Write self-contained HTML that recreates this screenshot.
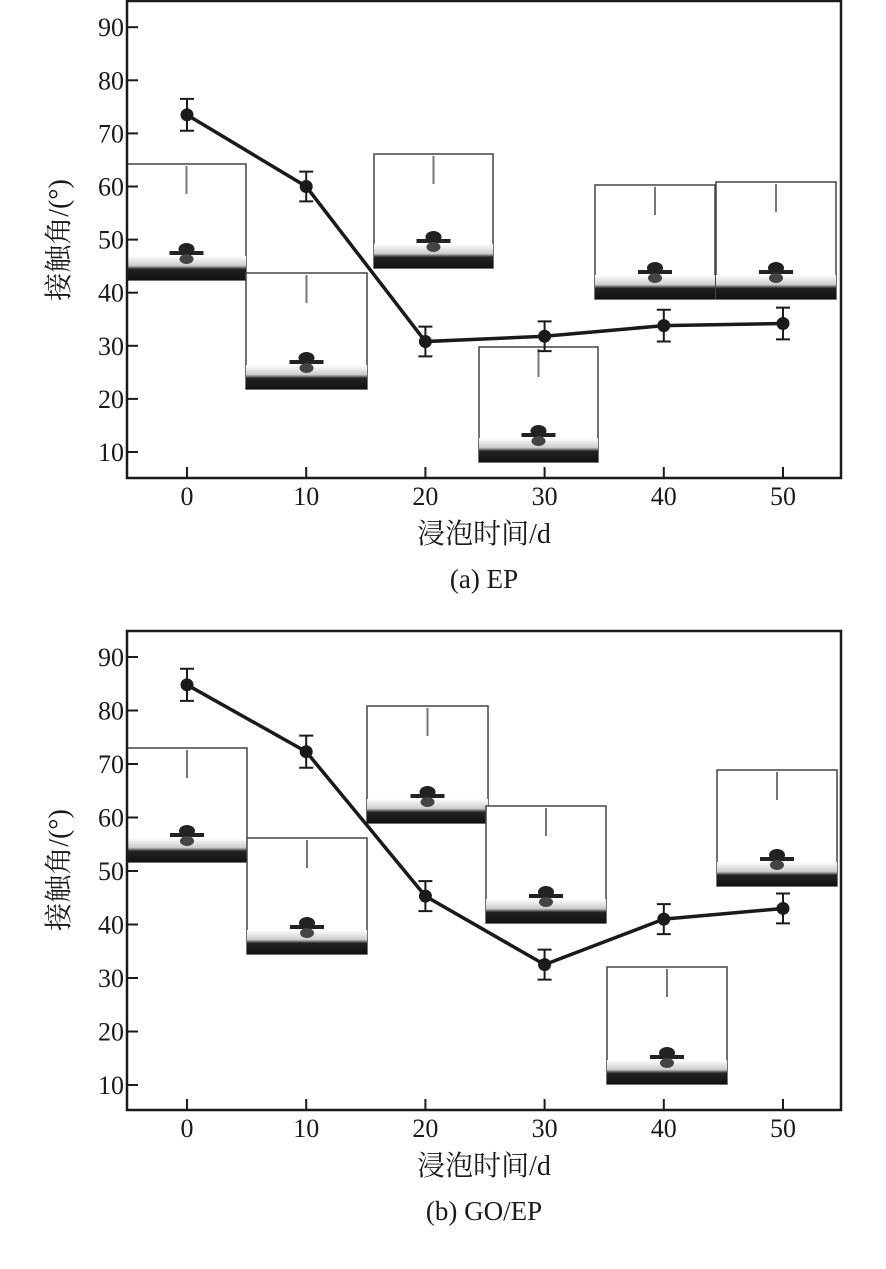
<!DOCTYPE html>
<html><head><meta charset="utf-8">
<style>
body{margin:0;background:#fff;}
svg text{font-family:"Liberation Serif","Noto Serif CJK SC",serif;fill:#1a1a1a;}
</style></head>
<body>
<svg id="s" width="886" height="1264" viewBox="0 0 886 1264" xmlns="http://www.w3.org/2000/svg">
<defs>
<linearGradient id="band" x1="0" y1="0" x2="0" y2="1">
<stop offset="0" stop-color="#fff"/><stop offset="0.4" stop-color="#ccc"/><stop offset="0.55" stop-color="#222"/><stop offset="1" stop-color="#111"/>
</linearGradient>
</defs>
</svg>
<script>
const days = [0, 10, 20, 30, 40, 50];
const epValues = [73.5, 60.0, 30.8, 31.8, 33.8, 34.2];
const epErrors = [3.0, 2.8, 2.8, 2.8, 3.0, 3.0];
const goValues = [84.8, 72.3, 45.3, 32.5, 41.0, 43.0];
const goErrors = [3.0, 3.0, 2.8, 2.8, 2.8, 2.8];
const yTicks = [10, 20, 30, 40, 50, 60, 70, 80, 90];
const xTicks = [0, 10, 20, 30, 40, 50];
const epInsets = [[127,164,119,116],[246,273,121,116],[374,154,119,114],[479,347,119,115],[595,185,120,114],[716,182,120,117]];
const goInsets = [[127,748,120,114],[247,838,120,116],[367,706,121,117],[486,806,120,117],[607,967,120,117],[717,770,120,116]];

const NS = "http://www.w3.org/2000/svg";
const svg = document.getElementById('s');
function mk(tag, attrs, parent){
  const e = document.createElementNS(NS, tag);
  for (const k in attrs) e.setAttribute(k, attrs[k]);
  (parent||svg).appendChild(e);
  return e;
}

function panel(p){
  const g = mk('g', {});
  
  
  const L=127, R=841, T=p.top, B=p.bottom;
  const xs = v => 187 + (v/10)*119.2;
  const ys = v => p.y10 - (v-10)/10*p.step;

  p.insets.forEach((r,i)=>{
    const ig = mk('g', {}, g);
    
    
    const [x,y,w,h]=r;
    mk('rect',{x:x,y:y,width:w,height:h,fill:'#fff',stroke:'#444','stroke-width':1.5},ig);
    mk('rect',{x:x,y:y+h-24,width:w,height:24,fill:'url(#band)'},ig);
    const cx = x + w/2;
    mk('line',{x1:cx,y1:y+2,x2:cx,y2:y+30,stroke:'#777','stroke-width':2},ig);
    mk('ellipse',{cx:cx,cy:y+h-31,rx:8,ry:6,fill:'#222'},ig);
    mk('rect',{x:cx-17,y:y+h-29,width:34,height:4,fill:'#222'},ig);
    mk('ellipse',{cx:cx,cy:y+h-21,rx:7,ry:5,fill:'#444'},ig);
  });

  const fr = mk('rect',{x:L,y:T,width:R-L,height:B-T,fill:'none',stroke:'#1a1a1a','stroke-width':2.5},g);
  
  

  yTicks.forEach(v=>{
    const y = ys(v);
    mk('line',{x1:L,y1:y,x2:L+11,y2:y,stroke:'#1a1a1a','stroke-width':2},g);
    const t = mk('text',{x:L-3,y:y+9,'font-size':26,'text-anchor':'end'},g);
    t.textContent = v;
    
    
  });
  xTicks.forEach(v=>{
    const x = xs(v);
    mk('line',{x1:x,y1:B,x2:x,y2:B-11,stroke:'#1a1a1a','stroke-width':2},g);
    const t = mk('text',{x:x,y:B+27,'font-size':26,'text-anchor':'middle'},g);
    t.textContent = v;
    
    
  });

  const pts = days.map((d,i)=>xs(d)+','+ys(p.values[i])).join(' ');
  const pl = mk('polyline',{points:pts,fill:'none',stroke:'#1a1a1a','stroke-width':3.5},g);
  
  
  days.forEach((d,i)=>{
    const x=xs(d), y=ys(p.values[i]), e=p.errors[i]*p.step/10;
    const eb = mk('path',{d:`M${x},${y-e}V${y+e}M${x-7},${y-e}H${x+7}M${x-7},${y+e}H${x+7}`,stroke:'#1a1a1a','stroke-width':2,fill:'none'},g);
    
    
    const c = mk('circle',{cx:x,cy:y,r:6.5,fill:'#1a1a1a'},g);
    
    
  });

  const yl = mk('text',{x:0,y:0,'font-size':28,'text-anchor':'middle',transform:`translate(68,${p.ylabelY}) rotate(-90)`},g);
  yl.textContent='接触角/(°)';
  
  
  const xl = mk('text',{x:484,y:B+65,'font-size':28,'text-anchor':'middle'},g);
  xl.textContent='浸泡时间/d';
  
  
  const cap = mk('text',{x:484,y:B+110,'font-size':27,'text-anchor':'middle'},g);
  cap.textContent=p.caption;
  
  
}

panel({name:'panel-a-ep',top:1,bottom:478,y10:452,step:53.1,values:epValues,errors:epErrors,insets:epInsets,caption:'(a) EP',ylabelY:240});
panel({name:'panel-b-go-ep',top:631,bottom:1110,y10:1085,step:53.5,values:goValues,errors:goErrors,insets:goInsets,caption:'(b) GO/EP',ylabelY:870});
</script>
</body></html>
